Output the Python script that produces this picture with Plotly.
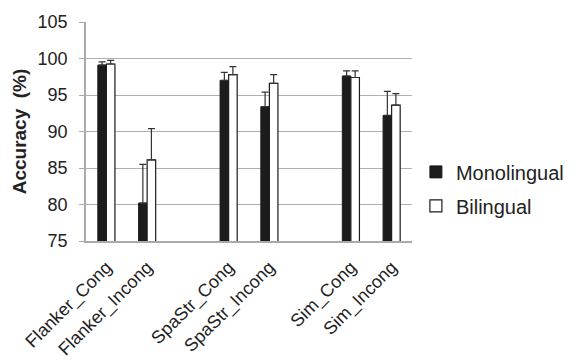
import plotly.graph_objects as go

# Task groups; a blank slot separates consecutive groups on the category axis
groups = [
    ["Flanker_Cong", "Flanker_Incong"],
    ["SpaStr_Cong", "SpaStr_Incong"],
    ["Sim_Cong", "Sim_Incong"],
]

mono_acc = [99.1, 80.2, 97.0, 93.4, 97.6, 92.2]
mono_err = [0.45, 5.3, 1.1, 2.0, 0.7, 3.3]
bi_acc = [99.25, 86.1, 97.8, 96.6, 97.4, 93.6]
bi_err = [0.5, 4.3, 1.1, 1.2, 0.9, 1.6]

y_ticks = [75, 80, 85, 90, 95, 100, 105]

# slot index for each condition (one empty slot between groups)
labels, slots = [], []
pos = 0
for g in groups:
    for name in g:
        labels.append(name)
        slots.append(pos)
        pos += 1
    pos += 1
n_slots = pos - 1

FONT = "Liberation Sans, Arial, sans-serif"

fig = go.Figure()
fig.add_trace(go.Bar(
    name="Monolingual", x=slots, y=mono_acc, legendgroup="m",
    marker=dict(color="#1c1c1c", line=dict(color="#1c1c1c", width=1)),
    error_y=dict(type="data", symmetric=False, array=mono_err,
                 arrayminus=[0] * len(mono_err),
                 color="#333333", thickness=1.2, width=3.5),
))
fig.add_trace(go.Bar(
    name="Bilingual", x=slots, y=bi_acc, legendgroup="b",
    marker=dict(color="#ffffff", line=dict(color="#1c1c1c", width=1.2)),
    error_y=dict(type="data", symmetric=False, array=bi_err,
                 arrayminus=[0] * len(bi_err),
                 color="#333333", thickness=1.2, width=3.5),
))

fig.update_layout(
    width=581, height=363,
    margin=dict(l=86, r=153, t=17, b=122),
    paper_bgcolor="white", plot_bgcolor="white",
    barmode="group", bargap=0.58, bargroupgap=0,
    font=dict(family=FONT, size=18, color="#222222"),
    showlegend=True,
    legend=dict(x=1.012, y=0.238, xanchor="left", yanchor="middle",
                font=dict(size=20, color="#222222"),
                traceorder="grouped", tracegroupgap=5, itemwidth=30,
                bgcolor="rgba(0,0,0,0)"),
)
fig.update_xaxes(
    range=[-0.5, n_slots - 0.5],
    tickmode="array", tickvals=slots, ticktext=labels,
    tickangle=-45, tickfont=dict(size=18),
    ticklabelstandoff=7, automargin=False,
    showgrid=False, zeroline=False,
    showline=True, linecolor="#aaaaaa", linewidth=1.5,
    ticks="",
)
fig.update_yaxes(
    range=[75, 105], tickvals=y_ticks,
    showgrid=True, gridcolor="#b0b0b0", gridwidth=1.2,
    showline=True, linecolor="#aaaaaa", linewidth=1.5,
    ticks="outside", ticklen=5, tickcolor="#aaaaaa",
    ticklabelstandoff=8,
    zeroline=False, tickfont=dict(size=18),
    title=dict(text="<b>Accuracy  (%)</b>", font=dict(size=19), standoff=6),
)

fig.write_html("out.html")
